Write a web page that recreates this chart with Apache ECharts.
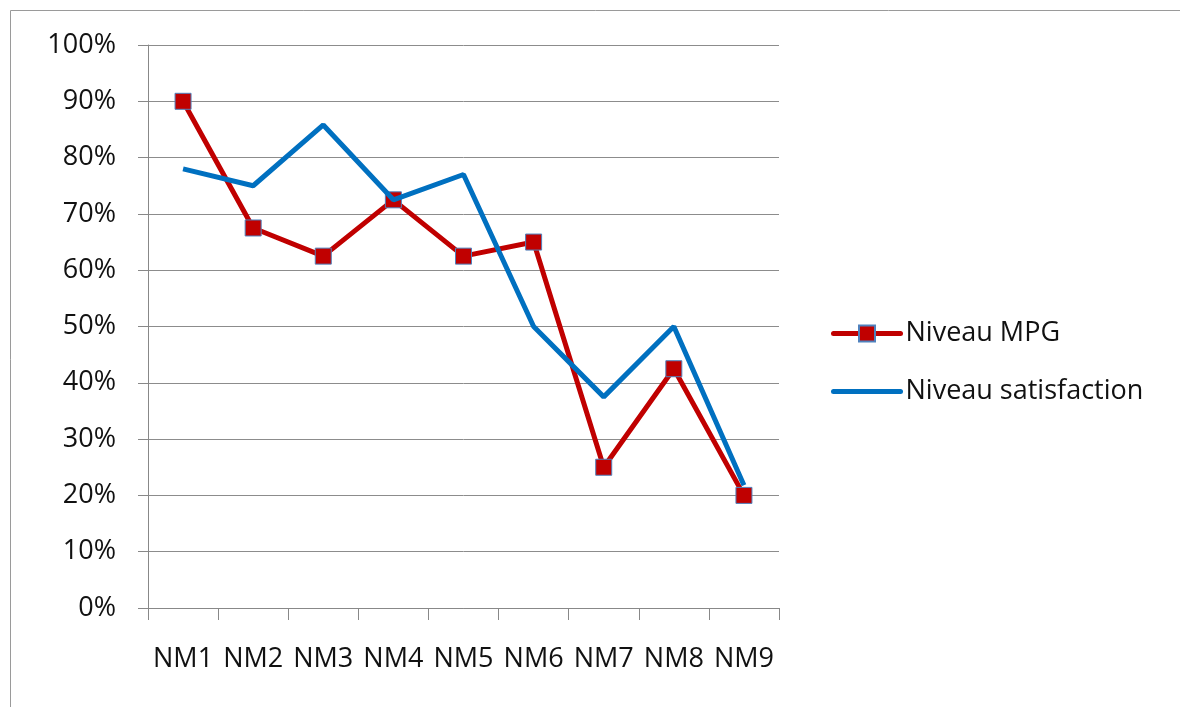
<!DOCTYPE html>
<html>
<head>
<meta charset="utf-8">
<script src="https://cdn.jsdelivr.net/npm/echarts@6/dist/echarts.min.js"></script>
<style>
html, body { margin: 0; padding: 0; background: #fff; }
#main { width: 1180px; height: 707px; }
</style>
</head>
<body>
<div id="main"></div>
<script>
// categories and values (percent)
var categories = ['NM1', 'NM2', 'NM3', 'NM4', 'NM5', 'NM6', 'NM7', 'NM8', 'NM9'];
var mpg = [90, 67.5, 62.5, 72.5, 62.5, 65, 25, 42.5, 20];
var satisfaction = [78, 75, 85.8, 72.5, 77, 50, 37.5, 50, 21.8];
var seriesNames = ['Niveau MPG', 'Niveau satisfaction'];

var chart = echarts.init(document.getElementById('main'));

var font = 'Open Sans, Noto Sans, sans-serif';

var option = {
    animation: false,
    backgroundColor: '#fff',
    graphic: [{
        type: 'rect',
        shape: { x: 10.5, y: 10.5, width: 1200, height: 720 },
        style: { fill: 'none', stroke: '#9a9a9a', lineWidth: 1 },
        silent: true
    }],
    grid: {
        left: 148,
        right: 401,
        top: 45,
        bottom: 99
    },
    legend: {
        orient: 'vertical',
        left: 826,
        top: 315,
        itemWidth: 67,
        itemHeight: 20,
        itemGap: 31,
        lineStyle: { width: 5, cap: 'round' },
        textStyle: { fontFamily: font, fontSize: 27, color: '#111' },
        data: [
            { name: seriesNames[0] },
            { name: seriesNames[1], itemStyle: { opacity: 0 } }
        ]
    },
    xAxis: {
        type: 'category',
        data: categories,
        boundaryGap: true,
        axisLine: { lineStyle: { color: '#888', width: 1 } },
        axisTick: { show: true, inside: false, length: 12, interval: 0, lineStyle: { color: '#888' } },
        axisLabel: { fontFamily: font, fontSize: 27, color: '#111', margin: 38, interval: 0 },
        splitLine: { show: false }
    },
    yAxis: {
        type: 'value',
        min: 0,
        max: 100,
        interval: 10,
        axisLine: { show: true, lineStyle: { color: '#888', width: 1 } },
        axisTick: { show: true, length: 10, lineStyle: { color: '#888' } },
        axisLabel: { formatter: '{value}%', fontFamily: font, fontSize: 27, color: '#111', margin: 32 },
        splitLine: { show: true, lineStyle: { color: '#8c8c8c', width: 1 } }
    },
    series: [
        {
            name: seriesNames[0],
            type: 'line',
            data: mpg,
            symbol: 'rect',
            symbolSize: 16,
            showAllSymbol: true,
            lineStyle: { color: '#c00000', width: 5 },
            itemStyle: { color: '#c00000', borderColor: '#4f81bd', borderWidth: 1 },
            z: 2
        },
        {
            name: seriesNames[1],
            type: 'line',
            data: satisfaction,
            symbol: 'none',
            lineStyle: { color: '#0070c0', width: 5 },
            itemStyle: { color: '#0070c0' },
            z: 3
        }
    ]
};

chart.setOption(option);
</script>
</body>
</html>
